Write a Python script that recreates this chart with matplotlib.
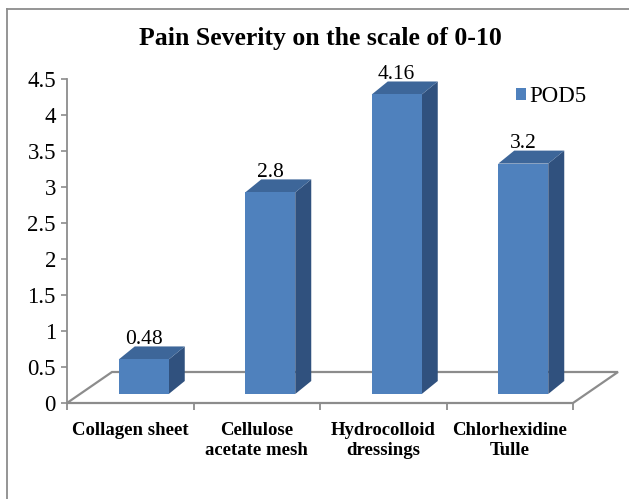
import matplotlib
matplotlib.use("Agg")
import matplotlib.pyplot as plt
from matplotlib.patches import Polygon, Patch
from matplotlib.lines import Line2D

categories = ["Collagen sheet", "Cellulose\nacetate mesh", "Hydrocolloid\ndressings", "Chlorhexidine\nTulle"]
pod5 = [0.48, 2.8, 4.16, 3.2]
series_name = "POD5"
title = "Pain Severity on the scale of 0-10"
yticks = [0, 0.5, 1, 1.5, 2, 2.5, 3, 3.5, 4, 4.5]

FRONT = "#4F81BD"
SIDE = "#30517E"
TOP = "#3D6699"
GRID = "#8C8C8C"

plt.rcParams["font.family"] = ["Liberation Serif", "DejaVu Serif"]

W, H = 629, 499
fig = plt.figure(figsize=(W / 100, H / 100), dpi=100)
# axes box: x 0..4 on px 67..573, y 0..4.5 on px 403..79
ax = fig.add_axes([67 / W, (H - 403) / H, 506 / W, 324 / H])
ax.set_xlim(0, 4)
ax.set_ylim(0, 4.5)

px_x = 506 / 4.0
px_y = 324 / 4.5

# 3d offsets (in data units)
floor_dx, floor_dy = 45 / px_x, 31 / px_y
bar_off_x, bar_off_y = 13.5 / px_x, 9 / px_y
bar_w = 50 / px_x
bar_dx, bar_dy = 16 / px_x, 13 / px_y

n = len(categories)
floor = Polygon([(0, 0), (n, 0), (n + floor_dx, floor_dy), (floor_dx, floor_dy)],
                closed=True, fill=False, edgecolor=GRID, lw=1.6, clip_on=False, zorder=1)
ax.add_patch(floor)

for i, v in enumerate(pod5):
    x0 = i + 0.5 + bar_off_x - bar_w / 2
    x1 = x0 + bar_w
    y0 = bar_off_y
    y1 = y0 + v
    front = [(x0, y0), (x1, y0), (x1, y1), (x0, y1)]
    side = [(x1, y0), (x1 + bar_dx, y0 + bar_dy), (x1 + bar_dx, y1 + bar_dy), (x1, y1)]
    top = [(x0, y1), (x1, y1), (x1 + bar_dx, y1 + bar_dy), (x0 + bar_dx, y1 + bar_dy)]
    ax.add_patch(Polygon(side, closed=True, facecolor=SIDE, edgecolor="none", clip_on=False, zorder=3))
    ax.add_patch(Polygon(top, closed=True, facecolor=TOP, edgecolor="none", clip_on=False, zorder=3))
    ax.add_patch(Polygon(front, closed=True, facecolor=FRONT, edgecolor="none", clip_on=False, zorder=4))
    ax.text((x0 + x1) / 2, y1 + bar_dy + 0.03, "{0:g}".format(v), ha="center", va="baseline",
            fontsize=15.5, color="black", zorder=5)

for s in ["top", "right", "bottom"]:
    ax.spines[s].set_visible(False)
ax.spines["left"].set_color(GRID)
ax.spines["left"].set_linewidth(1.3)
ax.patch.set_alpha(0)

ax.set_yticks(yticks)
ax.set_yticklabels(["{0:g}".format(t) for t in yticks])
ax.tick_params(axis="y", length=4, width=1.2, color=GRID, pad=4, labelsize=16.5)

ax.set_xticks(range(n + 1))
ax.set_xticklabels([])
ax.tick_params(axis="x", which="major", length=5, width=1.3, color=GRID, direction="out")
ax.set_xticks([i + 0.5 for i in range(n)], minor=True)
ax.set_xticklabels(categories, minor=True, fontweight="bold", fontsize=13.5, linespacing=1.22)
ax.tick_params(axis="x", which="minor", length=0, pad=14)

fig.text(320 / W, 1 - 38 / H, title, ha="center", va="center", fontsize=18.5, fontweight="bold")

ax.legend(handles=[Patch(facecolor=FRONT, edgecolor="none", label=series_name)],
          loc="center left", bbox_to_anchor=(516 / W, 1 - 97 / H), bbox_transform=fig.transFigure,
          frameon=False, fontsize=16.5, handlelength=0.45, handleheight=0.45, handletextpad=0.15,
          borderaxespad=0, borderpad=0)

# chart area border (top and left edge visible)
fig.add_artist(Line2D([7 / W, 1], [1 - 9 / H, 1 - 9 / H], color=GRID, lw=1.3))
fig.add_artist(Line2D([7 / W, 7 / W], [0, 1 - 9 / H], color=GRID, lw=1.3))

fig.savefig("out.png", dpi=100)
